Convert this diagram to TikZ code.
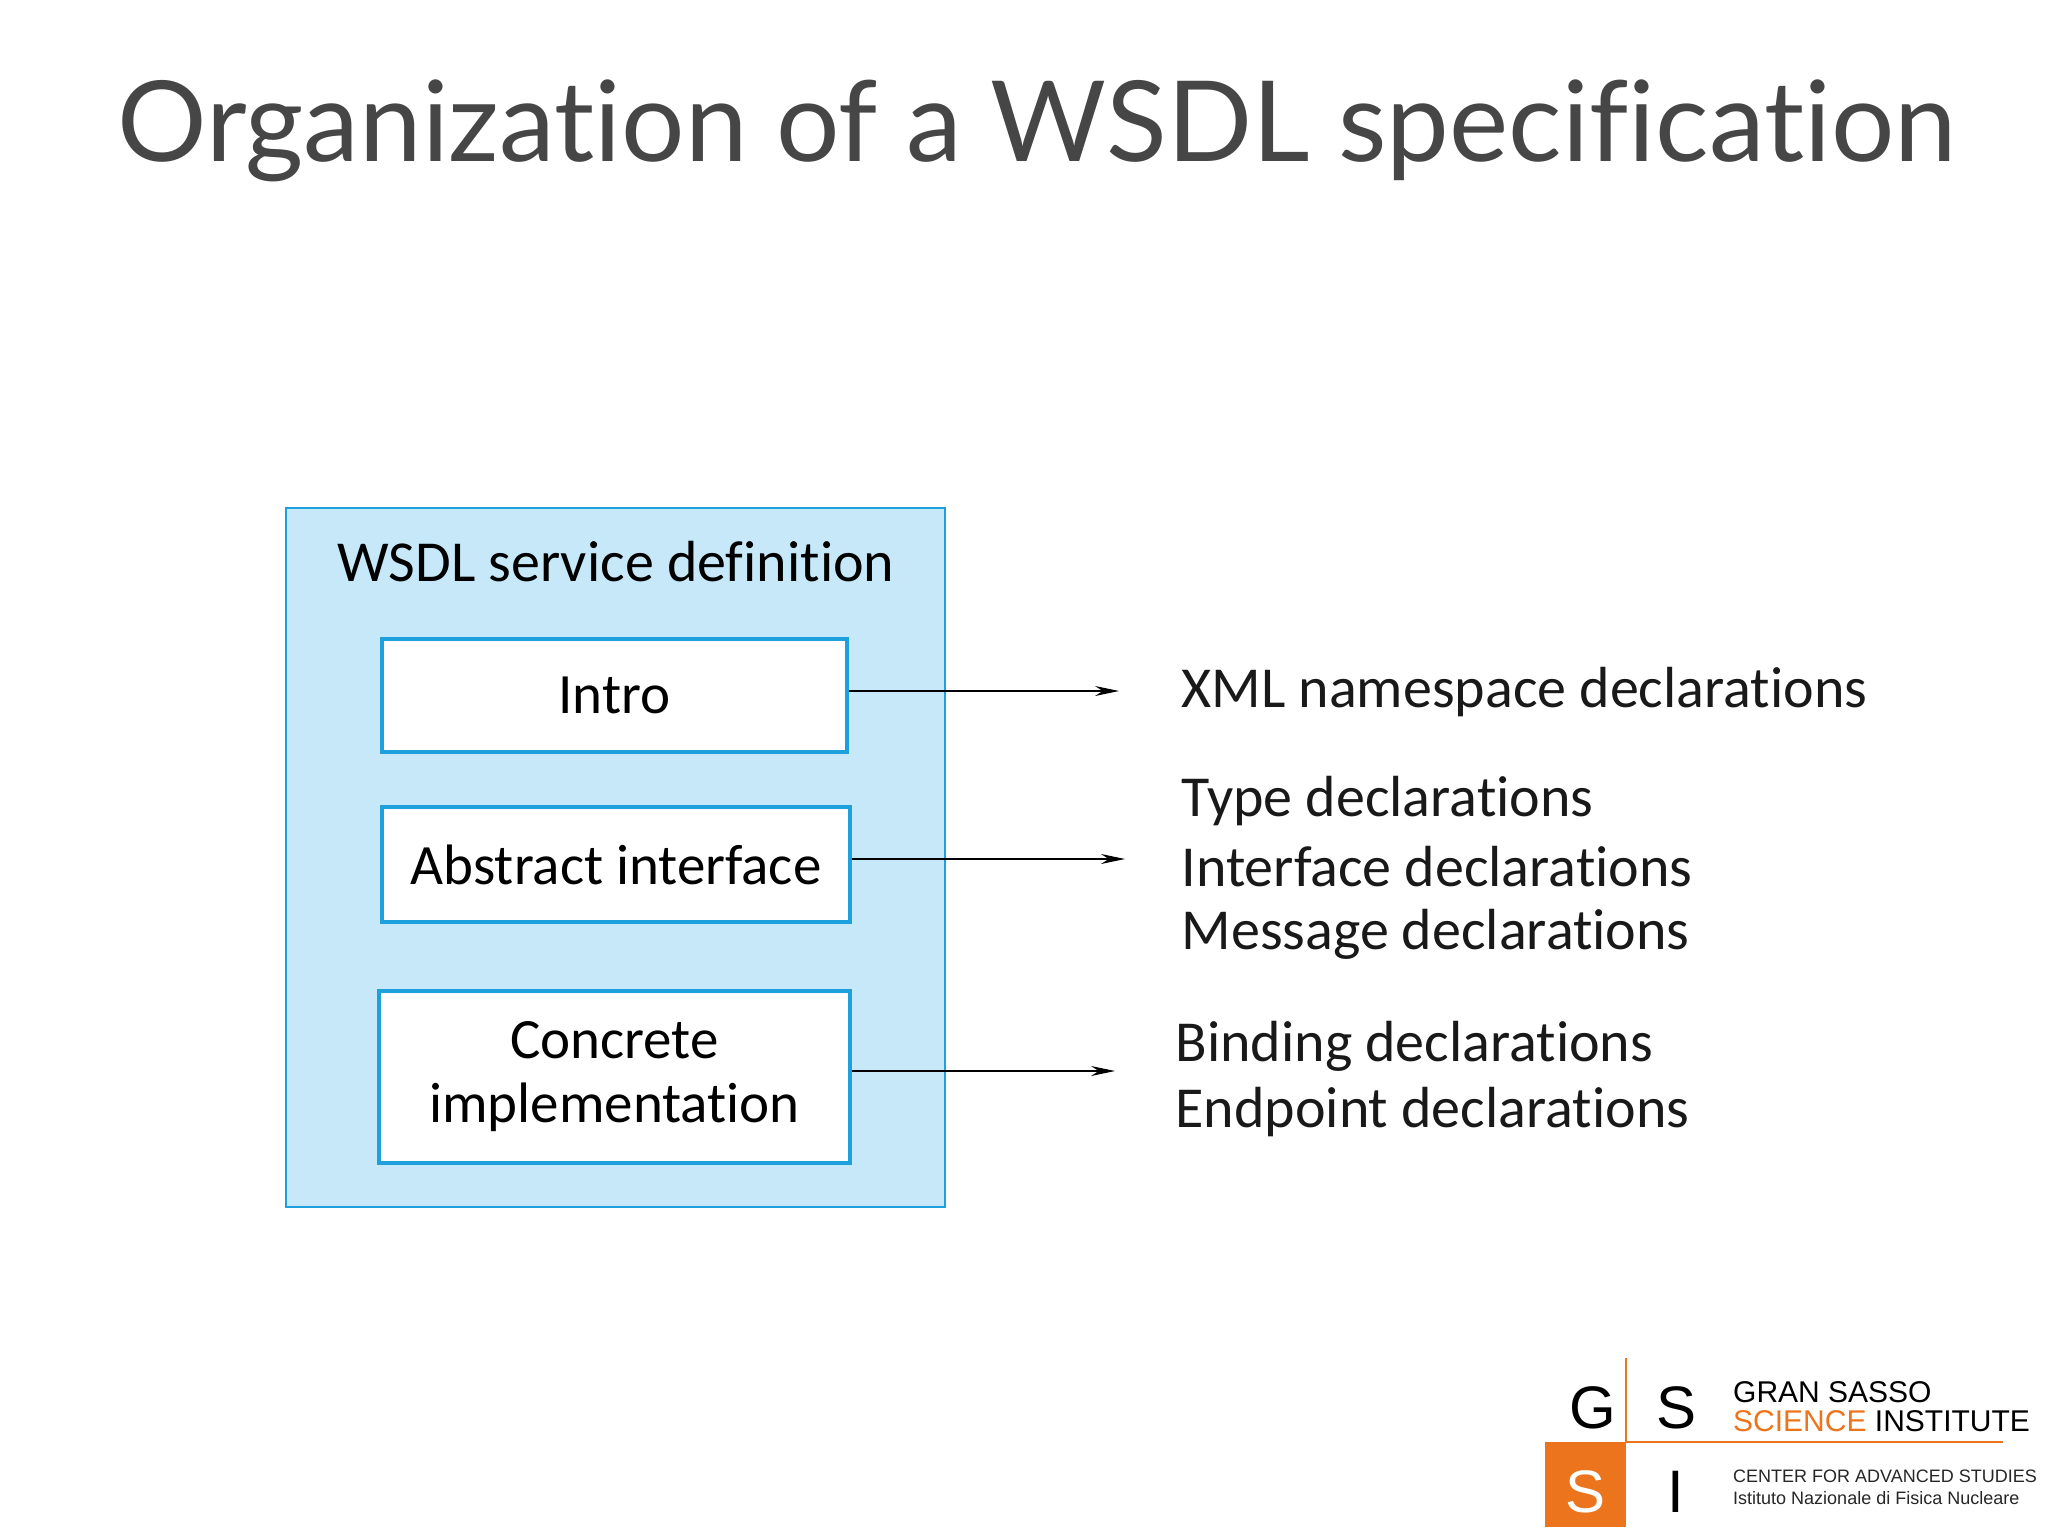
\documentclass[tikz,border=0pt]{standalone}
\usepackage{fontspec}
\setmainfont{Carlito}[Ligatures=NoCommon]
\newfontfamily\titlef{Lato}[Ligatures=NoCommon]
\newfontfamily\logof{Liberation Sans}
\usetikzlibrary{arrows.meta}
\definecolor{boxblue}{RGB}{199,232,248}
\definecolor{edgeblue}{RGB}{30,160,220}
\definecolor{gsorange}{RGB}{236,116,28}
\definecolor{titlegray}{RGB}{70,70,70}
\begin{document}
\begin{tikzpicture}[x=1pt,y=-1pt,
  inner/.style={draw=edgeblue,line width=3.2pt,fill=white,minimum width=#1,inner sep=0pt,align=center,font=\fontsize{57}{64}\selectfont},
  lbl/.style={anchor=west,font=\fontsize{58}{64}\selectfont,text=black!90},
  arr/.style={-{Stealth[length=24pt,width=10pt]},line width=1.2pt}]
\useasboundingbox (0,0) rectangle (2048,1536);
\node[font=\titlef\fontsize{112}{124}\selectfont,text=titlegray] (title) at (1037,131) {Organization of a WSDL specification};
\node[draw=edgeblue,line width=1.5pt,fill=boxblue,minimum width=659pt,minimum height=699pt,inner sep=0pt] (outer) at (615.5,857.5) {};
\node[font=\fontsize{58}{64}\selectfont] (wsdl) at (616,562) {WSDL service definition};
\node[inner=465pt,minimum height=113pt] (intro) at (614.5,695.5) {Intro};
\node[inner=468pt,minimum height=115pt] (abs) at (616,864.5) {Abstract interface};
\node[inner=471pt,minimum height=172pt] (conc) at (614.5,1077) {Concrete\\implementation};
\coordinate (e1) at (1119,691);
\coordinate (e2) at (1125,859);
\coordinate (e3) at (1115,1071);
\draw[arr] (intro.east |- e1) -- (e1);
\draw[arr] (abs.east |- e2) -- (e2);
\draw[arr] (conc.east |- e3) -- (e3);
\node[lbl] (t1) at (1178,692) {XML namespace declarations};
\node[lbl] (t2) at (1178,801) {Type declarations};
\node[lbl] (t3) at (1178,867) {Interface declarations};
\node[lbl] (t4) at (1178,934) {Message declarations};
\node[lbl] (t5) at (1172,1046) {Binding declarations};
\node[lbl] (t6) at (1172,1112) {Endpoint declarations};
% logo
\fill[gsorange] (1545,1442) rectangle (1626,1527);
\draw[gsorange,line width=1.2pt] (1626,1358) -- (1626,1442) -- (2003,1442);
\node[font=\logof\fontsize{60}{60}\selectfont] (g) at (1593,1408) {G};
\node[font=\logof\fontsize{60}{60}\selectfont] (s1) at (1676,1408) {S};
\node[font=\logof\fontsize{60}{60}\selectfont,text=white] (s2) at (1585,1492) {S};
\node[font=\logof\fontsize{60}{60}\selectfont] (i) at (1676,1492) {I};
\node[font=\logof\fontsize{30}{30}\selectfont,anchor=west,inner sep=0pt] (gs) at (1733,1392) {GRAN SASSO};
\node[font=\logof\fontsize{30}{30}\selectfont,anchor=west,inner sep=0pt] (sci) at (1733,1421) {\textcolor{gsorange}{SCIENCE} INSTITUTE};
\node[font=\logof\fontsize{18}{18}\selectfont,anchor=west,inner sep=0pt,text=black!85] (cas) at (1733,1476) {CENTER FOR ADVANCED STUDIES};
\node[font=\logof\fontsize{18}{18}\selectfont,anchor=west,inner sep=0pt,text=black!85] (infn) at (1733,1498) {Istituto Nazionale di Fisica Nucleare};
\end{tikzpicture}
\end{document}
